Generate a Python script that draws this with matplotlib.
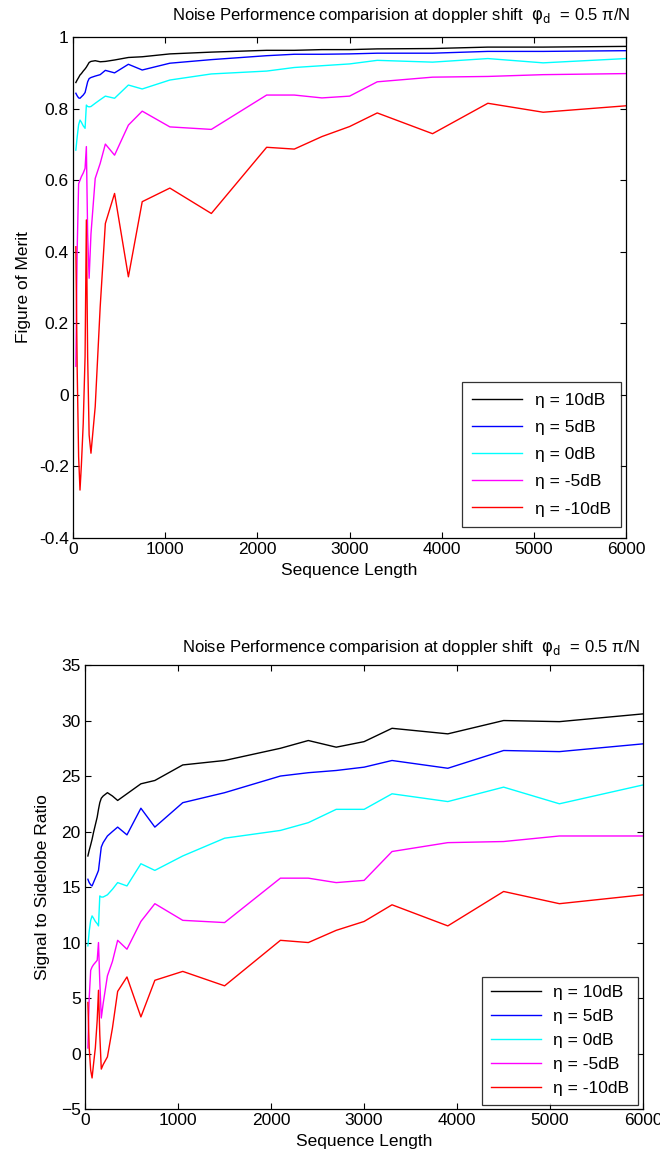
import matplotlib
matplotlib.use('Agg')
import matplotlib.pyplot as plt

plt.rcParams['font.family'] = ['Liberation Sans Narrow', 'Liberation Sans', 'DejaVu Sans']
plt.rcParams['mathtext.fontset'] = 'custom'
plt.rcParams['mathtext.rm'] = 'Liberation Sans Narrow'
plt.rcParams['mathtext.it'] = 'Liberation Sans Narrow'

# sequence lengths
seq_len = [31, 45, 61, 76, 91, 111, 131, 145, 159, 175, 195, 241, 295, 351, 451,
           601, 751, 1051, 1501, 2101, 2401, 2701, 3001, 3301, 3901, 4501, 5101, 6001]

labels = ['10dB', '5dB', '0dB', '-5dB', '-10dB']
colors = ['#000000', '#0000ff', '#00ffff', '#ff00ff', '#ff0000']

# figure of merit
fom_10 = [0.873, 0.880, 0.887, 0.894, 0.898, 0.905, 0.911, 0.916, 0.922, 0.929, 0.932, 0.934, 0.931, 0.932,
          0.936, 0.943, 0.945, 0.953, 0.958, 0.963, 0.963, 0.965, 0.965, 0.967, 0.968, 0.972, 0.972, 0.974]
fom_5 = [0.843, 0.836, 0.830, 0.829, 0.833, 0.838, 0.845, 0.860, 0.875, 0.884, 0.887, 0.891, 0.895, 0.907,
         0.900, 0.924, 0.908, 0.927, 0.937, 0.948, 0.952, 0.952, 0.953, 0.955, 0.955, 0.960, 0.960, 0.962]
fom_0 = [0.684, 0.720, 0.755, 0.768, 0.762, 0.752, 0.745, 0.810, 0.806, 0.805, 0.806, 0.815, 0.825, 0.835,
         0.829, 0.866, 0.855, 0.880, 0.897, 0.905, 0.915, 0.920, 0.925, 0.935, 0.930, 0.940, 0.928, 0.940]
fom_m5 = [0.08, 0.40, 0.59, 0.60, 0.61, 0.62, 0.633, 0.694, 0.45, 0.326, 0.45, 0.605, 0.647, 0.701,
          0.670, 0.754, 0.793, 0.749, 0.742, 0.838, 0.838, 0.830, 0.835, 0.875, 0.888, 0.890, 0.895, 0.898]
fom_m10 = [0.414, 0.079, -0.173, -0.266, -0.196, -0.08, 0.107, 0.489, 0.107, -0.112, -0.163, -0.033, 0.246, 0.479,
           0.563, 0.330, 0.540, 0.578, 0.507, 0.692, 0.687, 0.722, 0.750, 0.788, 0.730, 0.815, 0.790, 0.808]

# signal to sidelobe ratio
ssr_10 = [17.8, 18.3, 18.8, 19.3, 19.9, 20.6, 21.3, 22.0, 22.6, 23.0, 23.2, 23.5, 23.2, 22.8,
          23.4, 24.3, 24.6, 26.0, 26.4, 27.5, 28.2, 27.6, 28.1, 29.3, 28.8, 30.0, 29.9, 30.6]
ssr_5 = [15.7, 15.4, 15.2, 15.1, 15.4, 15.8, 16.2, 16.5, 17.5, 18.6, 19.0, 19.6, 20.0, 20.4,
         19.7, 22.1, 20.4, 22.6, 23.5, 25.0, 25.3, 25.5, 25.8, 26.4, 25.7, 27.3, 27.2, 27.9]
ssr_0 = [9.7, 11.0, 12.0, 12.4, 12.2, 11.9, 11.7, 11.5, 14.2, 14.1, 14.1, 14.3, 14.8, 15.4,
         15.1, 17.1, 16.5, 17.8, 19.4, 20.1, 20.8, 22.0, 22.0, 23.4, 22.7, 24.0, 22.5, 24.2]
ssr_m5 = [0.5, 5.0, 7.5, 7.8, 8.0, 8.2, 8.4, 10.0, 6.5, 3.2, 4.5, 7.0, 8.3, 10.2,
          9.4, 11.9, 13.5, 12.0, 11.8, 15.8, 15.8, 15.4, 15.6, 18.2, 19.0, 19.1, 19.6, 19.6]
ssr_m10 = [4.6, 0.5, -1.5, -2.2, -1.0, 0.5, 3.0, 5.7, 1.7, -1.4, -1.0, -0.3, 2.3, 5.6,
           6.9, 3.3, 6.6, 7.4, 6.1, 10.2, 10.0, 11.1, 11.9, 13.4, 11.5, 14.6, 13.5, 14.3]

title = 'Noise Performence comparision at doppler shift  $\\mathrm{φ}_{\\mathrm{d}}$  = 0.5 π/N'

fig = plt.figure(figsize=(6.6, 11.59), dpi=100)
ax1 = fig.add_axes([0.1106, 0.5358, 0.8379, 0.4322])
ax2 = fig.add_axes([0.1288, 0.0431, 0.8455, 0.3831])

FS = 12.5

def style(ax):
    ax.tick_params(direction='in', top=True, right=True, labelsize=FS, length=4, width=0.8, pad=3)
    for s in ax.spines.values():
        s.set_linewidth(0.9)
    ax.set_xlim(0, 6000)
    ax.set_xticks(range(0, 6001, 1000))
    ax.set_xlabel('Sequence Length', fontsize=FS, labelpad=4)

for vals, lab, c in zip([fom_10, fom_5, fom_0, fom_m5, fom_m10], labels, colors):
    ax1.plot(seq_len, vals, color=c, lw=1.0, label='η = ' + lab)
style(ax1)
ax1.set_ylim(-0.4, 1)
ax1.set_yticks([-0.4, -0.2, 0, 0.2, 0.4, 0.6, 0.8, 1])
ax1.set_yticklabels(['-0.4', '-0.2', '0', '0.2', '0.4', '0.6', '0.8', '1'])
ax1.set_ylabel('Figure of Merit', fontsize=FS, labelpad=6)
ax1.text(0.593, 1.022, title, transform=ax1.transAxes, ha='center', va='bottom', fontsize=12)
leg1 = ax1.legend(loc='lower right', bbox_to_anchor=(0.991, 0.022), fontsize=FS, frameon=True,
                  fancybox=False, edgecolor='black', borderaxespad=0, handlelength=2.9,
                  handletextpad=0.7, labelspacing=0.69, borderpad=0.6)
leg1.get_frame().set_linewidth(0.9)

for vals, lab, c in zip([ssr_10, ssr_5, ssr_0, ssr_m5, ssr_m10], labels, colors):
    ax2.plot(seq_len, vals, color=c, lw=1.0, label='η = ' + lab)
style(ax2)
ax2.set_ylim(-5, 35)
ax2.set_yticks(range(-5, 36, 5))
ax2.set_ylabel('Signal to Sidelobe Ratio', fontsize=FS, labelpad=8)
ax2.text(0.585, 1.015, title, transform=ax2.transAxes, ha='center', va='bottom', fontsize=12)
leg2 = ax2.legend(loc='lower right', bbox_to_anchor=(0.991, 0.009), fontsize=FS, frameon=True,
                  fancybox=False, edgecolor='black', borderaxespad=0, handlelength=2.9,
                  handletextpad=0.7, labelspacing=0.51, borderpad=0.5)
leg2.get_frame().set_linewidth(0.9)

fig.savefig('out.png', dpi=100, facecolor='white')
